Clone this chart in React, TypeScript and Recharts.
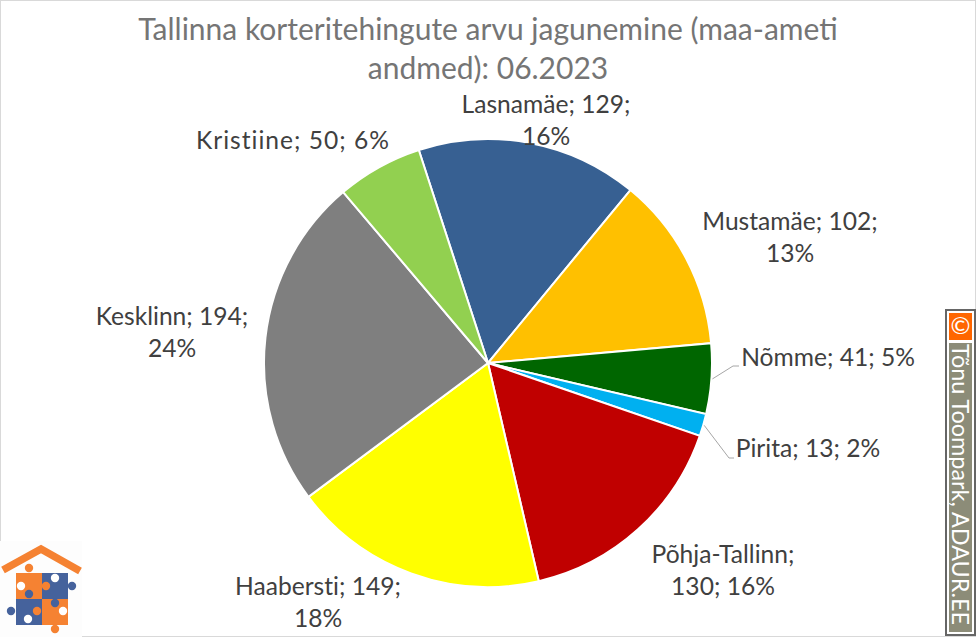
import React from "react";
import { PieChart, Pie, Cell } from "recharts";

const districts = ["Lasnamäe", "Mustamäe", "Nõmme", "Pirita", "Põhja-Tallinn", "Haabersti", "Kesklinn", "Kristiine"];
const deals = [129, 102, 41, 13, 130, 149, 194, 50];
const percents = [16, 13, 5, 2, 16, 18, 24, 6];
const colors = ["#376092", "#FFC000", "#006600", "#00B0F0", "#C00000", "#FFFF00", "#7F7F7F", "#92D050"];
const titleLines = ["Tallinna korteritehingute arvu jagunemine (maa-ameti", "andmed): 06.2023"];
const credit = "Tõnu Toompark, ADAUR.EE";

// Label placement relative to the pie centre, and which part of the label wraps.
const labelOffsets = [
  { dx: 58, dy: -258 }, { dx: 302, dy: -141 }, { dx: 340, dy: -5 }, { dx: 320, dy: 86 },
  { dx: 235, dy: 192 }, { dx: -170, dy: 224 }, { dx: -316, dy: -46 }, { dx: -195, dy: -222 },
];
const wrapAfter = [2, 2, 0, 0, 1, 2, 2, 0];
const labelSpacing = [0, 0, 0, 0, 0, 0, 0, 1];
const leaderElbows: Record<string, [number, number, number]> = {
  "Nõmme": [245, 3, 251],
  "Pirita": [241, 95, 246],
};

const rows = districts.map((name, i) => ({ name, value: deals[i], pct: percents[i], idx: i }));
const RAD = Math.PI / 180;
const FONT = "Lato, Carlito, sans-serif";

function renderLabel(p: any) {
  const i = p.payload?.idx ?? p.index;
  const off = labelOffsets[i];
  const x = p.cx + off.dx;
  const y = p.cy + off.dy;
  const parts = [`${districts[i]};`, `${deals[i]};`, `${percents[i]}%`];
  const w = wrapAfter[i];
  const lines = w === 0 ? [parts.join(" ")] : [parts.slice(0, w).join(" "), parts.slice(w).join(" ")];
  const elbow = leaderElbows[districts[i]];
  const sx = p.cx + (p.outerRadius + 1) * Math.cos(-p.midAngle * RAD);
  const sy = p.cy + (p.outerRadius + 1) * Math.sin(-p.midAngle * RAD);
  return (
    <g key={districts[i]}>
      {elbow && (
        <polyline
          points={`${sx},${sy} ${p.cx + elbow[0]},${p.cy + elbow[1]} ${p.cx + elbow[2]},${p.cy + elbow[1]}`}
          fill="none" stroke="#A6A6A6" strokeWidth={1}
        />
      )}
      <text
        textAnchor="middle" fontFamily={FONT} fontSize={24.6} fill="#404040"
        letterSpacing={labelSpacing[i]}
        style={{ fontVariantLigatures: "none" }}
      >
        {lines.map((t, k) => (
          <tspan key={k} x={x} y={y + k * 32 + 8}>{t}</tspan>
        ))}
      </text>
    </g>
  );
}

const ORANGE = "#F58232";
const BLUE = "#45629C";
const logoCircles: [number, number, string][] = [
  [29, 568, ORANGE], [21, 586, "#fff"], [55, 578, "#fff"], [46, 586, ORANGE], [72, 586, BLUE],
  [29, 594, BLUE], [11, 611, BLUE], [37, 611, ORANGE], [28, 619, "#fff"], [55, 603, BLUE],
  [63, 611, "#fff"], [55, 629, ORANGE],
];

function Overlay() {
  return (
    <svg width={976} height={637} style={{ position: "absolute", left: 0, top: 0, pointerEvents: "none" }}>
      <rect x={0.5} y={0.5} width={975} height={636} fill="none" stroke="#D9D9D9" />
      <text textAnchor="middle" fontFamily={FONT} fontSize={30} fill="#757575">
        {titleLines.map((t, i) => (
          <tspan key={i} x={488} y={40 + i * 39}>{t}</tspan>
        ))}
      </text>
      <rect x={0} y={541} width={82} height={96} fill="#FDFDFD" />
      <polyline points="3,570 41,549 80,571" fill="none" stroke={ORANGE} strokeWidth={7.5} />
      <rect x={16} y={573} width={26} height={26} fill={ORANGE} />
      <rect x={42} y={573} width={26} height={26} fill={BLUE} />
      <rect x={16} y={599} width={26} height={26} fill={BLUE} />
      <rect x={42} y={599} width={26} height={26} fill={ORANGE} />
      {logoCircles.map(([x, y, c], i) => (
        <circle key={i} cx={x} cy={y} r={4.2} fill={c} />
      ))}
      <rect x={946} y={310} width={29} height={325} fill="#fff" stroke="#666" strokeWidth={2} />
      <rect x={949} y={313} width={23} height={27} fill="#FF6600" />
      <text x={960.5} y={334} textAnchor="middle" fontFamily={FONT} fontSize={24} fill="#fff">©</text>
      <rect x={949} y={343} width={23} height={289} fill="#8C8C78" />
      <text
        transform="translate(952 344) rotate(90)"
        fontFamily={FONT} fontSize={23.4} fill="#fff"
      >{credit}</text>
    </svg>
  );
}

export default function App() {
  return (
    <div style={{ position: "absolute", left: 0, top: 0, width: 976, height: 637, background: "#fff" }}>
      <PieChart width={976} height={637} margin={{ top: 0, right: 0, bottom: 0, left: 0 }}>
        <Pie
          data={rows}
          dataKey="value"
          nameKey="name"
          cx={488}
          cy={363}
          outerRadius={224}
          startAngle={108}
          endAngle={-252}
          stroke="#fff"
          strokeWidth={2}
          labelLine={false}
          label={renderLabel}
          isAnimationActive={false}
        >
          {rows.map((r, i) => (
            <Cell key={r.name} fill={colors[i]} />
          ))}
        </Pie>
      </PieChart>
      <Overlay />
    </div>
  );
}
